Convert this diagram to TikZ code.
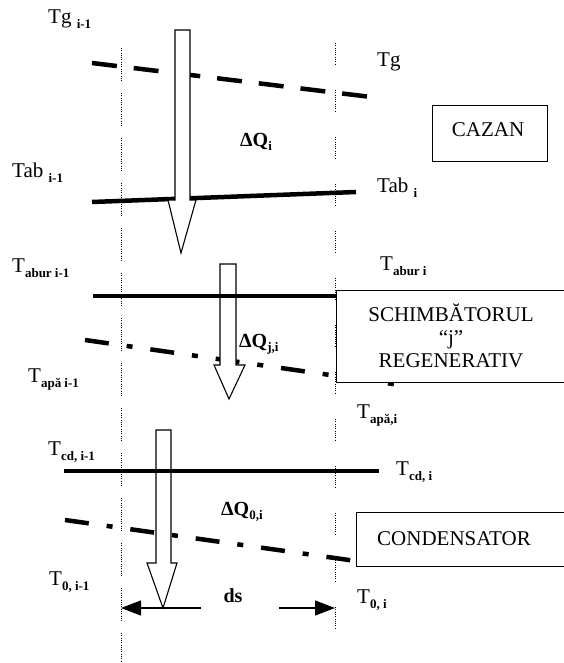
\documentclass[tikz,border=0pt]{standalone}
\usepackage{fontspec}
\setmainfont{Liberation Serif}
\usetikzlibrary{arrows.meta}
\newcommand\lsub[1]{\raisebox{-5pt}{\fontsize{13}{13}\selectfont\bfseries #1}}
\newcommand\qsub[1]{\raisebox{-4pt}{\fontsize{13}{13}\selectfont\bfseries #1}}
\begin{document}
\begin{tikzpicture}[x=1pt,y=-1pt,
  lbl/.style={anchor=base west, inner sep=0pt, font=\fontsize{21}{24}\selectfont},
  qlbl/.style={anchor=base west, inner sep=0pt, font=\fontsize{20}{24}\selectfont\bfseries},
  boxtxt/.style={inner sep=0pt, font=\fontsize{21}{23}\selectfont, align=center},
  eqbox/.style={draw, line width=1.3pt, fill=white, inner sep=0pt, anchor=north west},
  dashline/.style={line width=4.5pt, dash pattern=on 25pt off 17pt},
  dashdot/.style={line width=4.5pt, dash pattern=on 24pt off 18pt on 6pt off 18pt},
  solidline/.style={line width=4.5pt},
  heat/.style={draw, line width=1.1pt, fill=white, line join=miter},
  dots/.style={line width=0.9pt, dash pattern=on 0.9pt off 1.4pt},
  dim/.style={line width=1.1pt, -{Triangle[length=20pt,width=15pt]}},
]
\useasboundingbox (0,0) rectangle (564,663);
% dotted verticals
\foreach \y in {48,93,...,640} \draw[dots] (121,\y) -- ++(0,34);
\foreach \y in {43,90,...,650} \draw[dots] (335,\y) -- ++(0,22);
% coordinates of the temperature lines
\coordinate (tgA) at (92,63);   \coordinate (tgB) at (371,97);
\coordinate (tabA) at (92,202); \coordinate (tabB) at (356,192);
\coordinate (abA) at (93,296);  \coordinate (abB) at (336,296);
\coordinate (apA) at (85,340);  \coordinate (apB) at (400,385);
\coordinate (cdA) at (64,471);  \coordinate (cdB) at (379,471);
\coordinate (t0A) at (65,520);  \coordinate (t0B) at (356,561);
% lines below the arrows
\draw[dashline] (tgA) -- (tgB);
\draw[solidline] (tabA) -- (tabB);
\draw[dashdot] (apA) -- (apB);
\draw[dashdot] (t0A) -- (t0B);
% heat arrows
\draw[heat] (175,30) -- (190,30) -- (190,200) -- (196,200) -- (181,253) -- (168,200) -- (175,200) -- cycle;
\draw[heat] (220,264) -- (236,264) -- (236,365) -- (245,365) -- (229,399) -- (214,365) -- (220,365) -- cycle;
\draw[heat] (156,430) -- (171,430) -- (171,563) -- (177,563) -- (163,608) -- (147,563) -- (156,563) -- cycle;
% lines over the arrows
\draw[solidline] (abA) -- (abB);
\draw[solidline] (cdA) -- (cdB);
% boxes
\node[eqbox, minimum width=115pt, minimum height=56pt] (cazan) at (432,105) {};
\node[boxtxt, anchor=base] (cazantxt) at (488,137) {CAZAN};
\node[eqbox, minimum width=236pt, minimum height=92pt] (schimb) at (336,290) {};
\node[boxtxt] (schimbtxt) at (451,336) {SCHIMBĂTORUL\\“j”\\REGENERATIV};
\node[eqbox, minimum width=216pt, minimum height=54pt] (cond) at (356,512) {};
\node[boxtxt] (condtxt) at (454,539) {CONDENSATOR};
% labels
\node[lbl] (tgl) at (48,24) {Tg \lsub{i-1}};
\node[lbl] (tgr) at (377,67) {Tg};
\node[lbl] (tabl) at (12,178) {Tab \lsub{i-1}};
\node[lbl] (tabr) at (377,193) {Tab \lsub{i}};
\node[lbl] (aburl) at (12,272) {T\lsub{abur i-1}};
\node[lbl] (aburr) at (380,270) {T\lsub{abur i}};
\node[lbl] (apal) at (28,382) {T\lsub{apă i-1}};
\node[lbl] (apar) at (357,418) {T\lsub{apă,i}};
\node[lbl] (cdl) at (48,455) {T\lsub{cd, i-1}};
\node[lbl] (cdr) at (396,475) {T\lsub{cd, i}};
\node[lbl] (t0l) at (49,585) {T\lsub{0, i-1}};
\node[lbl] (t0r) at (357,603) {T\lsub{0, i}};
\node[qlbl] (dq1) at (240,147) {ΔQ\qsub{i}};
\node[qlbl] (dq2) at (239,347) {ΔQ\qsub{j,i}};
\node[qlbl] (dq3) at (221,515) {ΔQ\qsub{0,i}};
\node[qlbl, anchor=base] (ds) at (233,602) {ds};
% ds dimension
\coordinate (dsLtip) at (121,608); \coordinate (dsLtail) at (201,608);
\coordinate (dsRtail) at (279,608); \coordinate (dsRtip) at (335,608);
\draw[dim] (dsLtail) -- (dsLtip);
\draw[dim] (dsRtail) -- (dsRtip);
\end{tikzpicture}
\end{document}
